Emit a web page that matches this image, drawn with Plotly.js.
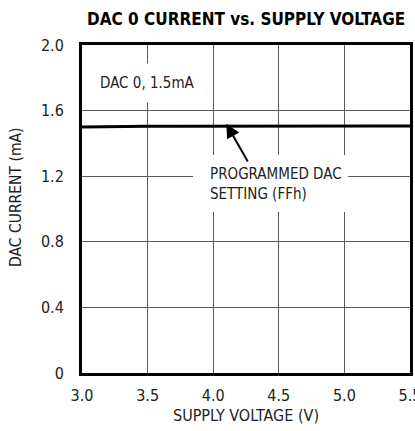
<!DOCTYPE html>
<html>
<head>
<meta charset="utf-8">
<script src="https://cdn.plot.ly/plotly-3.0.1.min.js"></script>
<style>
html,body{margin:0;padding:0;background:#fff;overflow:hidden;}
#chart{width:415px;height:431px;}
</style>
</head>
<body>
<div id="chart"></div>
<script>
// Data
const supplyVoltage = [3.0, 3.25, 3.5, 3.75, 4.0, 4.25, 4.5, 4.75, 5.0, 5.25, 5.5];
const dacCurrent    = [1.500, 1.503, 1.504, 1.504, 1.505, 1.505, 1.505, 1.505, 1.506, 1.506, 1.506];
const xTickVals = [3.0, 3.5, 4.0, 4.5, 5.0, 5.5];
const xTickText = ["3.0", "3.5", "4.0", "4.5", "5.0", "5.5"];
const yTickVals = [0, 0.4, 0.8, 1.2, 1.6, 2.0];
const yTickText = ["0", "0.4", "0.8", "1.2", "1.6", "2.0"];

const narrow = "'DejaVu Sans Condensed', 'Liberation Sans Narrow', sans-serif";

const trace = {
  x: supplyVoltage, y: dacCurrent, type: 'scatter', mode: 'lines',
  line: {color: '#000', width: 3}, hoverinfo: 'skip'
};

const layout = {
  width: 415, height: 431,
  margin: {l: 82, r: 5, t: 45, b: 58},
  paper_bgcolor: '#fff', plot_bgcolor: '#fff',
  showlegend: false,
  font: {family: narrow, color: '#222', size: 15},
  title: {
    text: 'DAC 0 CURRENT vs. SUPPLY VOLTAGE',
    font: {family: narrow, size: 17, color: '#000', weight: 'bold'},
    x: 0.593, xanchor: 'center', y: 0.955, yanchor: 'middle'
  },
  xaxis: {
    range: [3.0, 5.5], tickvals: xTickVals, ticktext: xTickText,
    showgrid: true, gridcolor: '#5a5a5a', gridwidth: 1,
    showline: true, linecolor: '#000', linewidth: 3, mirror: true,
    ticks: '', zeroline: false, tickfont: {size: 16, color: '#222'},
    ticklabelstandoff: 6, ticklabeloverflow: 'allow',
    title: {text: 'SUPPLY VOLTAGE (V)', font: {size: 16, color: '#222'}, standoff: 6},
    fixedrange: true
  },
  yaxis: {
    range: [0, 2.0], tickvals: yTickVals, ticktext: yTickText,
    showgrid: true, gridcolor: '#5a5a5a', gridwidth: 1,
    showline: true, linecolor: '#000', linewidth: 3, mirror: true,
    ticks: '', zeroline: false, tickfont: {size: 16, color: '#222'},
    ticklabelstandoff: 12,
    fixedrange: true
  },
  shapes: [
    {type: 'rect', xref: 'x', yref: 'y', x0: 3.846, x1: 5.027, y0: 0.982, y1: 1.329,
     fillcolor: '#fff', line: {width: 0}, layer: 'between'}
  ],
  annotations: [
    {x: -0.201, y: 0.534, xref: 'paper', yref: 'paper', text: 'DAC CURRENT (mA)', textangle: -90,
     showarrow: false, xanchor: 'center', yanchor: 'middle', font: {size: 15.5, color: '#222'}},
    {x: 3.5, y: 1.77, xref: 'x', yref: 'y', text: 'DAC 0, 1.5mA', showarrow: false,
     bgcolor: '#fff', borderpad: 10, font: {size: 15, color: '#222'}},
    {x: 4.479, y: 1.15, xref: 'x', yref: 'y', text: 'PROGRAMMED DAC<br>SETTING (FFh)', showarrow: false,
     align: 'left', font: {size: 15, color: '#222'}},
    {x: 4.1, y: 1.52, xref: 'x', yref: 'y', ax: 4.27, ay: 1.28, axref: 'x', ayref: 'y',
     text: '', showarrow: true, arrowhead: 2, arrowsize: 1.4, arrowwidth: 2, arrowcolor: '#000'}
  ]
};

Plotly.newPlot('chart', [trace], layout, {staticPlot: true, displayModeBar: false});
</script>
</body>
</html>
